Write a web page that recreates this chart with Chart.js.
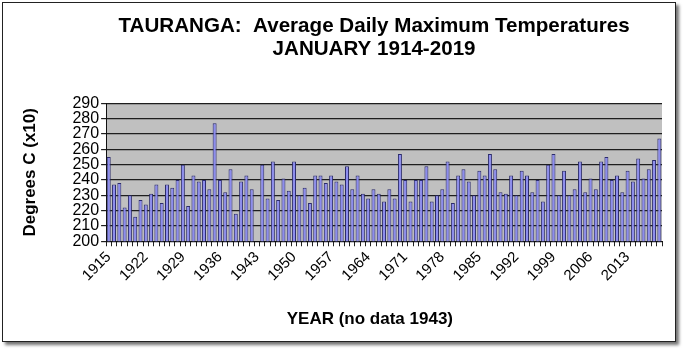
<!DOCTYPE html>
<html>
<head>
<meta charset="utf-8">
<script src="https://cdn.jsdelivr.net/npm/chart.js@4/dist/chart.umd.min.js"></script>
<style>
  html, body { margin: 0; padding: 0; background: #fff; }
  #frame {
    position: absolute; left: 2px; top: 2px; width: 672px; height: 338px;
    border: 1px solid #222; box-shadow: 3px 3px 3px rgba(0,0,0,0.55);
  }
  #tempChart { position: absolute; left: 0; top: 0; }
</style>
</head>
<body>
<div id="frame"></div>
<canvas id="tempChart" width="685" height="352"></canvas>
<script>
const years = [
  "1915","1916","1917","1918","1919","1920","1921",
  "1922","1923","1924","1925","1926","1927","1928",
  "1929","1930","1931","1932","1933","1934","1935",
  "1936","1937","1938","1939","1940","1941","1942",
  "1943","1944","1945","1946","1947","1948","1949",
  "1950","1951","1952","1953","1954","1955","1956",
  "1957","1958","1959","1960","1961","1962","1963",
  "1964","1965","1966","1967","1968","1969","1970",
  "1971","1972","1973","1974","1975","1976","1977",
  "1978","1979","1980","1981","1982","1983","1984",
  "1985","1986","1987","1988","1989","1990","1991",
  "1992","1993","1994","1995","1996","1997","1998",
  "1999","2000","2001","2002","2003","2004","2005",
  "2006","2007","2008","2009","2010","2011","2012",
  "2013","2014","2015","2016","2017","2018","2019"
];

// degrees C x10, 1943 missing
const maxTemp = [
  255, 237, 238, 222, 230, 216, 227,
  224, 231, 237, 225, 237, 235, 240,
  250, 223, 243, 239, 240, 234, 277,
  240, 232, 247, 218, 239, 243, 234,
  null, 250, 228, 252, 227, 241, 233,
  252, 230, 235, 225, 243, 243, 238,
  243, 239, 237, 249, 234, 243, 231,
  228, 234, 231, 226, 234, 228, 257,
  240, 226, 240, 240, 249, 226, 230,
  234, 252, 225, 243, 247, 239, 230,
  246, 243, 257, 247, 232, 231, 243,
  230, 246, 243, 232, 240, 226, 250,
  257, 230, 246, 230, 234, 252, 232,
  241, 234, 252, 255, 240, 243, 232,
  246, 239, 254, 241, 247, 253, 267
];

const tickYears = ["1915","1922","1929","1936","1943","1950","1957","1964",
                   "1971","1978","1985","1992","1999","2006","2013"];

const fontFamily = "'Liberation Sans', Arial, sans-serif";

const plotBackground = {
  id: "plotBackground",
  beforeDraw(chart) {
    const { ctx, chartArea } = chart;
    ctx.save();
    ctx.fillStyle = "#c0c0c0";
    ctx.fillRect(chartArea.left, chartArea.top, chartArea.width, chartArea.height);
    ctx.restore();
  }
};

// the original title sits a little left of the plot centre
const titleShift = {
  id: "titleShift",
  afterLayout(chart) {
    if (chart.titleBlock) {
      chart.titleBlock.left -= 20;
    }
  }
};

const chartCtx = document.getElementById("tempChart").getContext("2d");

new Chart(chartCtx, {
  type: "bar",
  data: {
    labels: years,
    datasets: [
      {
        label: "Average daily maximum",
        data: maxTemp,
        backgroundColor: "#8c8cee",
        borderColor: "#2c2c6c",
        borderWidth: 1,
        borderSkipped: "bottom",
        barPercentage: 0.75,
        categoryPercentage: 1.0
      }
    ]
  },
  plugins: [plotBackground, titleShift],
  options: {
    responsive: false,
    animation: false,
    layout: {
      padding: { left: 10, right: 23, top: 6, bottom: 8 }
    },
    plugins: {
      legend: { display: false },
      tooltip: { enabled: false },
      title: {
        display: true,
        fullSize: false,
        text: ["TAURANGA:  Average Daily Maximum Temperatures", "JANUARY 1914-2019"],
        color: "#000",
        font: { family: fontFamily, size: 20.6, weight: "bold", lineHeight: 1.15 },
        padding: { top: 8, bottom: 42 }
      }
    },
    scales: {
      x: {
        offset: true,
        grid: {
          display: true,
          drawOnChartArea: false,
          drawTicks: true,
          tickLength: 5,
          color: "#222",
          offset: true
        },
        border: { display: true, color: "#111", width: 1 },
        ticks: {
          autoSkip: false,
          maxRotation: 45,
          minRotation: 45,
          padding: 2,
          color: "#000",
          font: { family: fontFamily, size: 15 },
          callback: function(value, index) {
            const label = years[index];
            return tickYears.includes(label) ? label : "";
          }
        },
        title: {
          display: true,
          text: "YEAR (no data 1943)      ",
          color: "#000",
          font: { family: fontFamily, size: 17, weight: "bold" },
          padding: { top: 23, bottom: 14 }
        }
      },
      y: {
        min: 200,
        max: 290,
        ticks: {
          stepSize: 10,
          autoSkip: false,
          padding: 2,
          color: "#000",
          font: { family: fontFamily, size: 16 }
        },
        grid: {
          color: "#1e1e1e",
          lineWidth: 1.2,
          tickLength: 5
        },
        border: { display: true, color: "#111", width: 1 },
        title: {
          display: true,
          text: "Degrees C (x10)",
          color: "#000",
          font: { family: fontFamily, size: 17, weight: "bold" },
          padding: { top: 10, bottom: 30 }
        }
      }
    }
  }
});
</script>
</body>
</html>
